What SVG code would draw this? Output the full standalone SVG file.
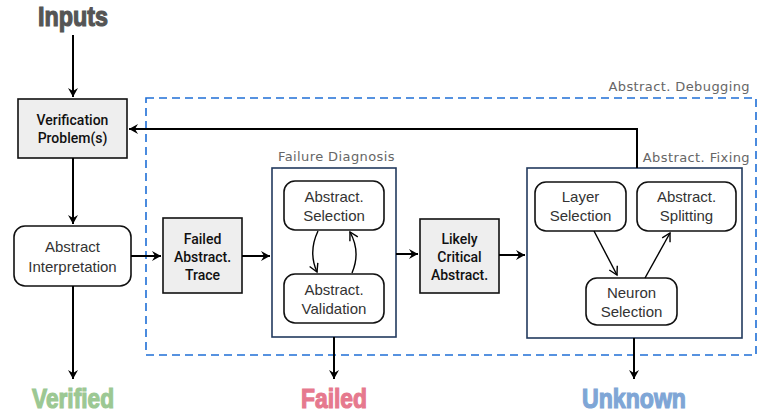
<svg xmlns="http://www.w3.org/2000/svg" width="773" height="418" viewBox="0 0 773 418">
  <style>
    .title { font-family: "Liberation Sans", Arial, sans-serif; font-weight: bold; font-size: 27px; text-anchor: middle; stroke-width: 1.2; }
    .sq { fill: #eeeeee; stroke: #111; stroke-width: 1.6; }
    .rd { fill: #ffffff; stroke: #111; stroke-width: 1.6; }
    .grp { fill: none; stroke: #223a5e; stroke-width: 1.6; }
    .bold { font-family: Roboto, "Liberation Sans", sans-serif; font-weight: 500; font-size: 14px; fill: #111; text-anchor: middle; }
    .light { font-family: "Liberation Sans", Arial, sans-serif; font-size: 15px; fill: #333; text-anchor: middle; }
    .lbl { font-family: "DejaVu Sans", sans-serif; font-size: 13px; fill: #666; letter-spacing: 0.4px; }
    .wire { fill: none; stroke: #000; stroke-width: 2; marker-end: url(#ah); }
    .thin { fill: none; stroke: #000; stroke-width: 1.4; marker-end: url(#ah2); }
  </style>
  <defs>
    <marker id="ah" markerWidth="12" markerHeight="12" refX="10" refY="6" orient="auto" markerUnits="userSpaceOnUse">
      <path d="M1,1 L10,6 L1,11 L4,6 Z" fill="#000"/>
    </marker>
    <marker id="ah2" markerWidth="11" markerHeight="11" refX="9" refY="5.5" orient="auto" markerUnits="userSpaceOnUse">
      <path d="M1,1 L9,5.5 L1,10" fill="none" stroke="#000" stroke-width="1.4"/>
    </marker>
  </defs>

  <!-- outcome and input titles -->
  <text class="title" x="73" y="26" fill="#555" stroke="#555" textLength="70" lengthAdjust="spacingAndGlyphs">Inputs</text>
  <text class="title" x="73" y="408" fill="#9cc893" stroke="#9cc893" textLength="82" lengthAdjust="spacingAndGlyphs">Verified</text>
  <text class="title" x="334" y="408" fill="#e6798e" stroke="#e6798e" textLength="66" lengthAdjust="spacingAndGlyphs">Failed</text>
  <text class="title" x="634" y="408" fill="#7fa6d6" stroke="#7fa6d6" textLength="104" lengthAdjust="spacingAndGlyphs">Unknown</text>

  <!-- debugging region -->
  <g id="debugging">
    <rect x="146" y="98" width="610" height="257" fill="none" stroke="#1f6fd6" stroke-width="1.6" stroke-dasharray="8,5"/>
    <text class="lbl" x="750" y="91" text-anchor="end">Abstract. Debugging</text>
  </g>

  <g id="verification">
    <rect class="sq" x="18" y="99" width="109" height="59"/>
    <text class="bold" x="72.5" y="125">Verification</text>
    <text class="bold" x="72.5" y="143">Problem(s)</text>
  </g>

  <g id="interpretation">
    <rect class="rd" x="14" y="226" width="117" height="60" rx="11"/>
    <text class="light" x="72.5" y="252">Abstract</text>
    <text class="light" x="72.5" y="272">Interpretation</text>
  </g>

  <g id="failed-trace">
    <rect class="sq" x="163" y="218" width="79" height="75"/>
    <text class="bold" x="202.5" y="244">Failed</text>
    <text class="bold" x="202.5" y="262">Abstract.</text>
    <text class="bold" x="202.5" y="280">Trace</text>
  </g>

  <g id="failure-diagnosis">
    <rect class="grp" x="272" y="168" width="124" height="169"/>
    <text class="lbl" x="278" y="161">Failure Diagnosis</text>
  </g>

  <g id="abs-selection">
    <rect class="rd" x="284" y="181" width="100" height="49" rx="11"/>
    <text class="light" x="334" y="202">Abstract.</text>
    <text class="light" x="334" y="221">Selection</text>
  </g>

  <g id="abs-validation">
    <rect class="rd" x="284" y="274" width="100" height="49" rx="11"/>
    <text class="light" x="334" y="295">Abstract.</text>
    <text class="light" x="334" y="314">Validation</text>
  </g>

  <g id="likely-critical">
    <rect class="sq" x="420" y="219" width="79" height="74"/>
    <text class="bold" x="459.5" y="244">Likely</text>
    <text class="bold" x="459.5" y="262">Critical</text>
    <text class="bold" x="459.5" y="280">Abstract.</text>
  </g>

  <g id="abstract-fixing">
    <rect class="grp" x="527" y="168" width="215" height="170" stroke="#1f3f70"/>
    <text class="lbl" x="750" y="162" text-anchor="end">Abstract. Fixing</text>
  </g>

  <g id="layer-selection">
    <rect class="rd" x="535" y="182" width="91" height="49" rx="11"/>
    <text class="light" x="580.5" y="202">Layer</text>
    <text class="light" x="580.5" y="221">Selection</text>
  </g>

  <g id="abs-splitting">
    <rect class="rd" x="637" y="182" width="99" height="49" rx="11"/>
    <text class="light" x="686.5" y="202">Abstract.</text>
    <text class="light" x="686.5" y="221">Splitting</text>
  </g>

  <g id="neuron-selection">
    <rect class="rd" x="586" y="278" width="91" height="47" rx="11"/>
    <text class="light" x="631.5" y="298">Neuron</text>
    <text class="light" x="631.5" y="317">Selection</text>
  </g>

  <!-- connectors -->
  <g id="connectors">
    <path class="wire" d="M73,35 L73,97"/>
    <path class="wire" d="M73,158 L73,224"/>
    <path class="wire" d="M73,286 L73,379"/>
    <path class="wire" d="M131,256 L161,256"/>
    <path class="wire" d="M242,256 L270,256"/>
    <path class="wire" d="M396,254 L418,254"/>
    <path class="wire" d="M499,255 L525,255"/>
    <path class="wire" d="M637,168 L637,129 L129,129"/>
    <path class="wire" d="M334,337 L334,379"/>
    <path class="wire" d="M634,338 L634,379"/>
    <path class="thin" d="M318,231 Q308,252 317,272"/>
    <path class="thin" d="M352,273 Q361,252 350,232"/>
    <path class="thin" d="M594,231 L617,275"/>
    <path class="thin" d="M645,278 L670,233"/>
  </g>
</svg>
